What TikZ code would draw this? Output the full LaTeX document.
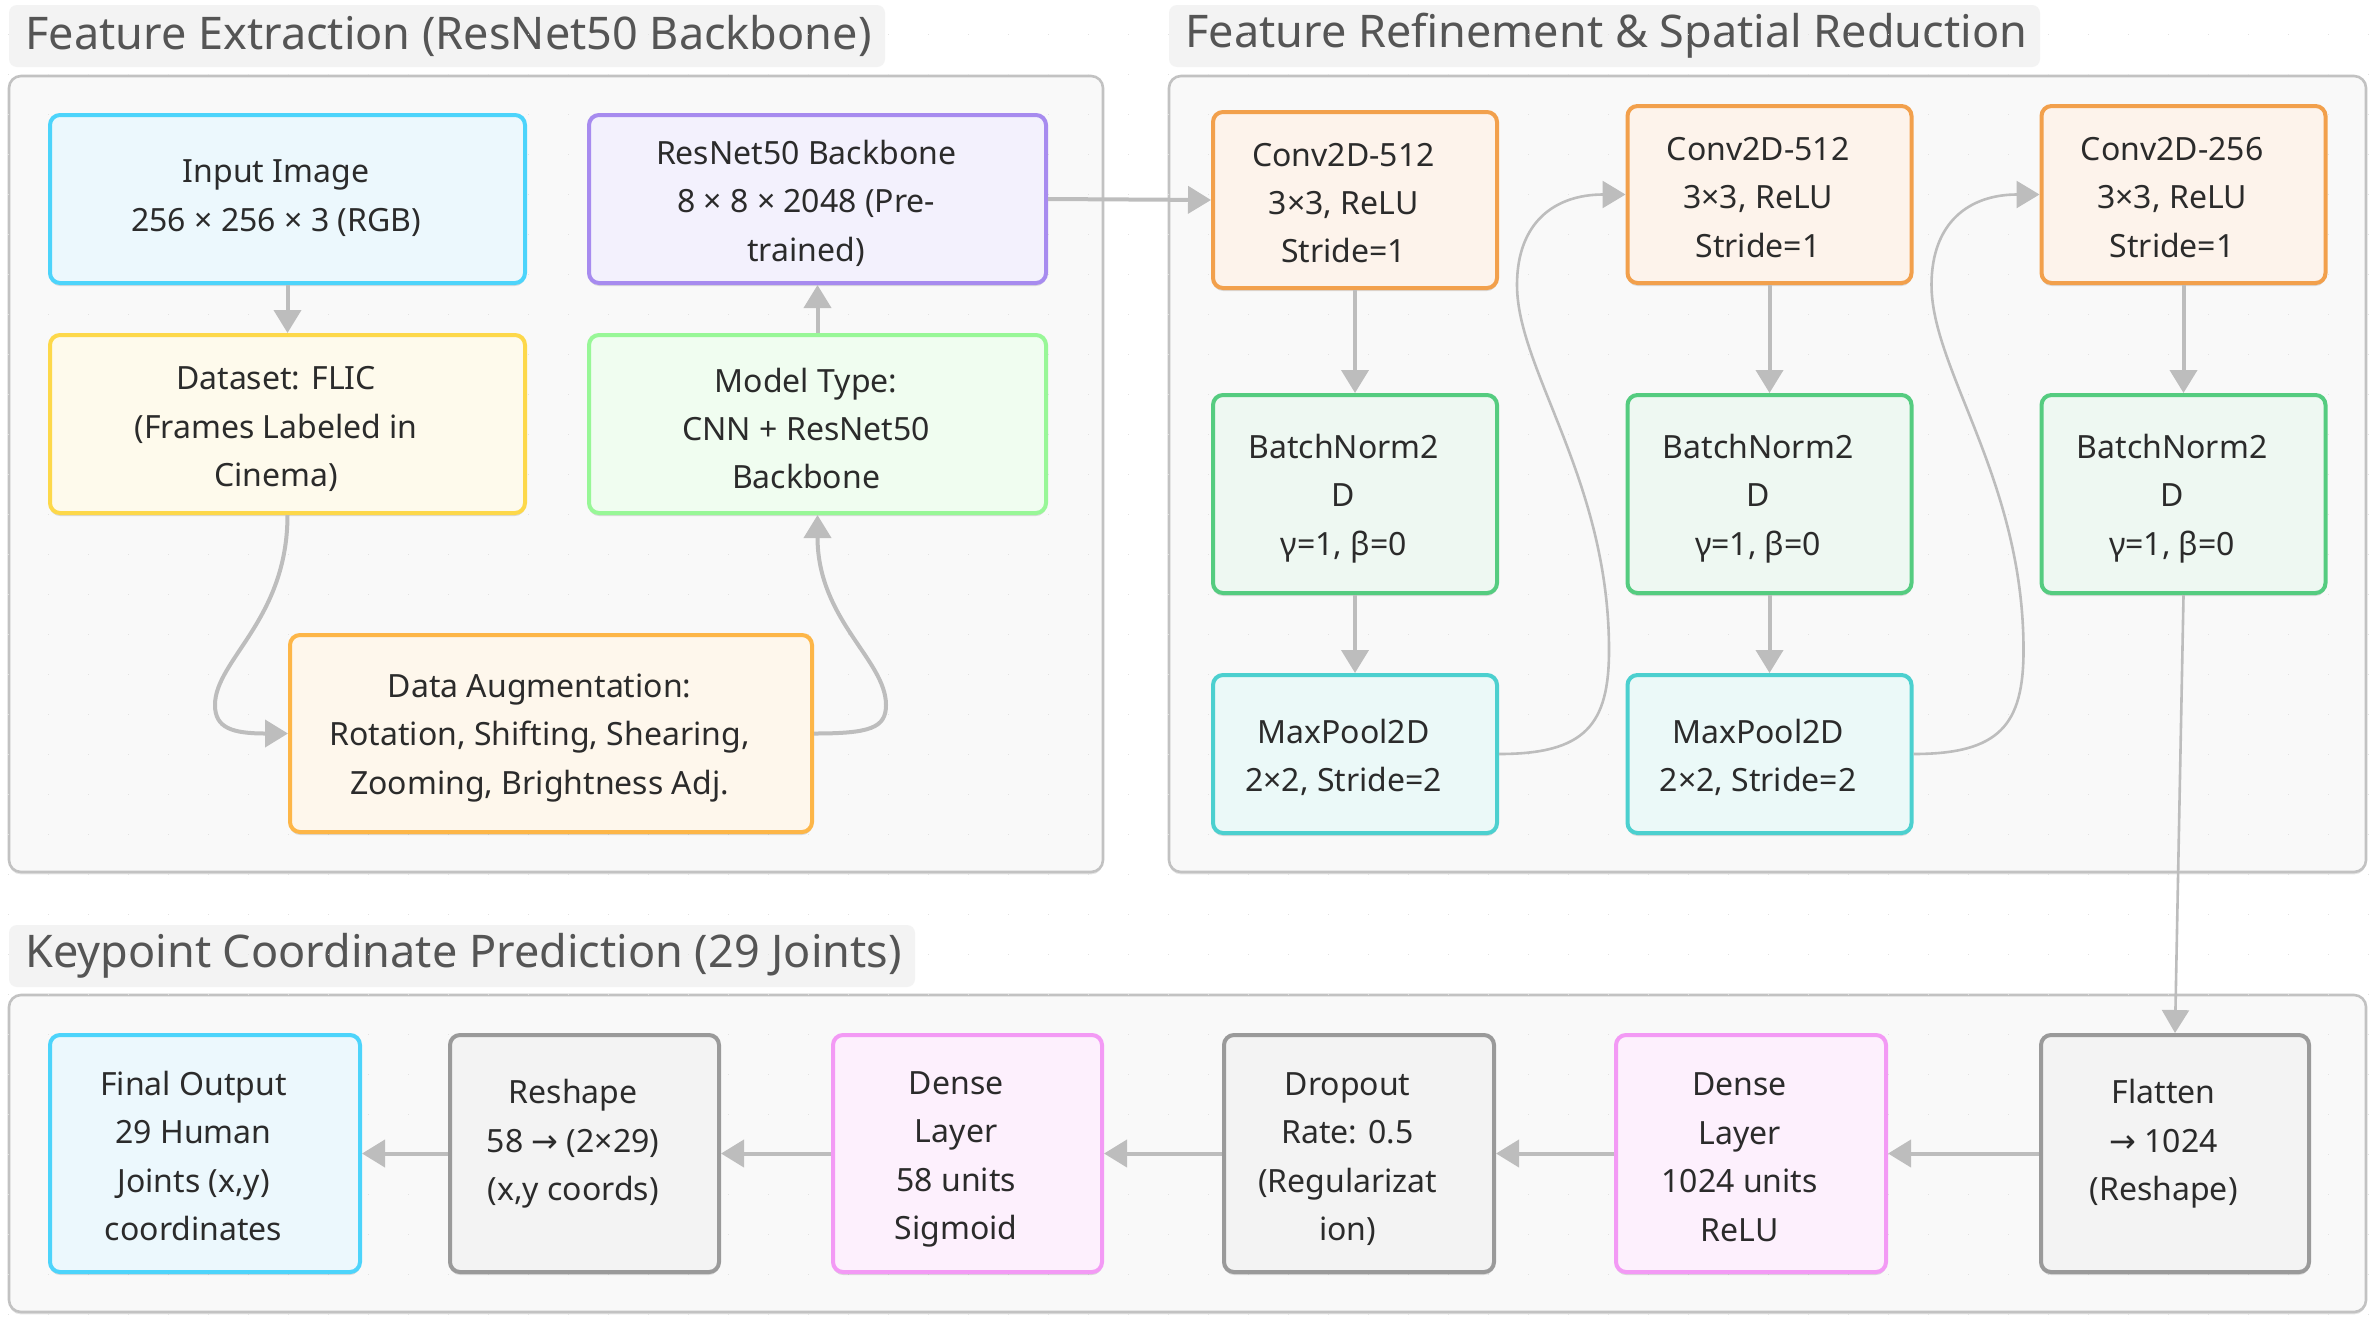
\documentclass[tikz,border=0pt]{standalone}
\usepackage{fontspec}
\setmainfont{Noto Sans}
\newfontfamily\symfont{DejaVu Sans}
\usetikzlibrary{arrows.meta,shadows}
\definecolor{txt}{HTML}{2B2B2B}
\definecolor{titletxt}{HTML}{555555}
\definecolor{titlebg}{HTML}{F3F3F3}
\definecolor{clusterf}{HTML}{F9F9F9}
\definecolor{clusterb}{HTML}{C2C2C2}
\definecolor{arrc}{HTML}{BDBDBD}
\definecolor{dotc}{HTML}{E2E2E2}
\definecolor{cyanb}{HTML}{4DD4FB}\definecolor{cyanf}{HTML}{ECF8FD}
\definecolor{purpb}{HTML}{A78BEF}\definecolor{purpf}{HTML}{F3F1FD}
\definecolor{yelb}{HTML}{FDD84A}\definecolor{yelf}{HTML}{FEFAEC}
\definecolor{lgrb}{HTML}{98F797}\definecolor{lgrf}{HTML}{F0FDF0}
\definecolor{augb}{HTML}{FDB648}\definecolor{augf}{HTML}{FEF7EC}
\definecolor{convb}{HTML}{F2A04C}\definecolor{convf}{HTML}{FDF3EB}
\definecolor{bnb}{HTML}{55CC80}\definecolor{bnf}{HTML}{EEF8F2}
\definecolor{mpb}{HTML}{4CD0CF}\definecolor{mpf}{HTML}{EBF9F8}
\definecolor{grb}{HTML}{9A9A9A}\definecolor{grf}{HTML}{F3F3F3}
\definecolor{pkb}{HTML}{F39AF5}\definecolor{pkf}{HTML}{FDF0FD}
\newcommand{\ra}{{\symfont\char"2192}}
% box with separately placed text: style, name, position, text shift, text
\newcommand{\bx}[5]{%
  \node[#1] (#2) at #3 {};
  \node[lbl] (#2-t) at ([shift={#4}]#2.center) {#5};}
\begin{document}
\begin{tikzpicture}[x=0.5pt,y=-0.5pt,
  box/.style={draw, rounded corners=5pt, line width=2pt, inner sep=0pt,
    drop shadow={shadow xshift=0pt, shadow yshift=-1.5pt, opacity=0.12, fill=black}},
  lbl/.style={align=center, inner sep=0pt, font=\fontsize{16}{24.2}\selectfont, text=txt},
  cluster/.style={draw=clusterb, fill=clusterf, rounded corners=6pt, line width=1.3pt,
    drop shadow={shadow xshift=0pt, shadow yshift=-1.2pt, opacity=0.10, fill=black}},
  ttlbg/.style={fill=titlebg, rounded corners=4pt},
  ttl/.style={anchor=west, inner sep=0pt, font=\fontsize{22.5}{26}\selectfont, text=titletxt},
  arr/.style={draw=arrc, line width=2pt, -{Triangle[length=11.5pt,width=13.5pt]}},
  thinarr/.style={draw=arrc, line width=1.3pt, -{Triangle[length=11.5pt,width=13.5pt]}},
  cy/.style={box, draw=cyanb, fill=cyanf},
  pu/.style={box, draw=purpb, fill=purpf},
  ye/.style={box, draw=yelb, fill=yelf},
  lg/.style={box, draw=lgrb, fill=lgrf},
  au/.style={box, draw=augb, fill=augf},
  cv/.style={box, draw=convb, fill=convf, minimum width=142pt},
  bn/.style={box, draw=bnb, fill=bnf, minimum width=142pt, minimum height=99pt},
  mp/.style={box, draw=mpb, fill=mpf, minimum width=142pt, minimum height=79pt},
  gr/.style={box, draw=grb, fill=grf},
  pk/.style={box, draw=pkb, fill=pkf},
  bot/.style={minimum height=118.5pt}
]
\useasboundingbox[fill=white] (0,0) rectangle (2375,1323);

% clusters
\fill[ttlbg] (9,5) rectangle (885,67);
\node[ttl] (t1) at (25,36) {Feature Extraction (ResNet50 Backbone)};
\path[cluster] (9,76) rectangle (1103,872);

\fill[ttlbg] (1169,5) rectangle (2040,67);
\node[ttl] (t2) at (1185,36) {Feature Refinement \& Spatial Reduction};
\path[cluster] (1169,76) rectangle (2366,872);

\fill[ttlbg] (9,925) rectangle (915,987);
\node[ttl] (t3) at (25,956) {Keypoint Coordinate Prediction (29 Joints)};
\path[cluster] (9,995) rectangle (2366,1312);

% dot grid
\foreach \gx in {8.3,48.3,...,2370} {
  \foreach \gy in {34.3,74.3,...,1320} {
    \fill[dotc] (\gx-0.8,\gy-0.8) rectangle (\gx+0.8,\gy+0.8);
  }
}

% cluster 1
\bx{cy, minimum width=237.5pt, minimum height=84pt}{inp}{(287.5,199)}{(-5.7pt,0.5pt)}{Input Image\\256 × 256 × 3 (RGB)}
\bx{pu, minimum width=228.5pt, minimum height=84pt}{res}{(817.5,199)}{(-5.7pt,-2pt)}{ResNet50 Backbone\\8 × 8 × 2048 (Pre-\\trained)}
\bx{ye, minimum width=237.5pt, minimum height=89pt}{ds}{(287.5,424)}{(-5.7pt,-2.6pt)}{Dataset: FLIC\\(Frames Labeled in\\Cinema)}
\bx{lg, minimum width=228.5pt, minimum height=89pt}{mt}{(817.5,424)}{(-5.7pt,-2.2pt)}{Model Type:\\CNN + ResNet50\\Backbone}
\bx{au, minimum width=261pt, minimum height=98.5pt}{aug}{(551,733.5)}{(-5.7pt,-2.2pt)}{Data Augmentation:\\Rotation, Shifting, Shearing,\\Zooming, Brightness Adj.}

% cluster 2
\bx{cv, minimum height=88pt}{c1}{(1355,200)}{(-5.7pt,-1.5pt)}{Conv2D-512\\3×3, ReLU\\Stride=1}
\bx{cv, minimum height=88.5pt}{c2}{(1769.5,194.5)}{(-5.7pt,-1.5pt)}{Conv2D-512\\3×3, ReLU\\Stride=1}
\bx{cv, minimum height=88.5pt}{c3}{(2183.5,194.5)}{(-5.7pt,-1.5pt)}{Conv2D-256\\3×3, ReLU\\Stride=1}
\bx{bn}{b1}{(1355,494)}{(-5.7pt,-2.2pt)}{BatchNorm2\\D\\γ=1, β=0}
\bx{bn}{b2}{(1769.5,494)}{(-5.7pt,-2.2pt)}{BatchNorm2\\D\\γ=1, β=0}
\bx{bn}{b3}{(2183.5,494)}{(-5.7pt,-2.2pt)}{BatchNorm2\\D\\γ=1, β=0}
\bx{mp}{m1}{(1355,754)}{(-5.7pt,-1.8pt)}{MaxPool2D\\2×2, Stride=2}
\bx{mp}{m2}{(1769.5,754)}{(-5.7pt,-1.8pt)}{MaxPool2D\\2×2, Stride=2}

% cluster 3
\bx{cy, bot, minimum width=155pt}{out}{(205,1153.5)}{(-5.7pt,-1.3pt)}{Final Output\\29 Human\\Joints (x,y)\\coordinates}
\bx{gr, bot, minimum width=134.5pt}{rsh}{(584.5,1153.5)}{(-5.7pt,4.9pt)}{Reshape\\58 \ra{} (2×29)\\(x,y coords)}
\bx{pk, bot, minimum width=134.5pt}{d58}{(967.5,1153.5)}{(-5.7pt,-2.9pt)}{Dense\\Layer\\58 units\\Sigmoid}
\bx{gr, bot, minimum width=135pt}{drp}{(1359,1153.5)}{(-5.7pt,-2.7pt)}{Dropout\\Rate: 0.5\\(Regularizat\\ion)}
\bx{pk, bot, minimum width=135pt}{d1024}{(1751,1153.5)}{(-5.7pt,-1.9pt)}{Dense\\Layer\\1024 units\\ReLU}
\bx{gr, bot, minimum width=134pt}{flt}{(2175,1153.5)}{(-5.7pt,4.9pt)}{Flatten\\\ra{} 1024\\(Reshape)}

% edges
\draw[arr] (inp.south) -- (ds.north);
\draw[arr] (mt.north) -- (res.south);
\draw[arr] (ds.south) .. controls (287.5,620) and (215,660) .. (215,705) .. controls (215,728) and (232,733.5) .. (aug.west);
\draw[arr] (aug.east) .. controls (870,733.5) and (886,728) .. (886,705) .. controls (886,660) and (817.5,620) .. (mt.south);
\draw[arr] (res.east) -- (c1.west);
\draw[arr] (c1.south) -- (b1.north);
\draw[arr] (c2.south) -- (b2.north);
\draw[arr] (c3.south) -- (b3.north);
\draw[arr] (b1.south) -- (m1.north);
\draw[arr] (b2.south) -- (m2.north);
\draw[thinarr] (m1.east) .. controls (1585,754) and (1609,725) .. (1609,650) .. controls (1609,480) and (1517,370) .. (1517,285) .. controls (1517,222) and (1555,194.5) .. (c2.west);
\draw[thinarr] (m2.east) .. controls (1999.5,754) and (2023.5,725) .. (2023.5,650) .. controls (2023.5,480) and (1931.5,370) .. (1931.5,285) .. controls (1931.5,222) and (1969.5,194.5) .. (c3.west);
\draw[thinarr] (b3.south) -- (flt.north);
\draw[arr] (flt.west) -- (d1024.east);
\draw[arr] (d1024.west) -- (drp.east);
\draw[arr] (drp.west) -- (d58.east);
\draw[arr] (d58.west) -- (rsh.east);
\draw[arr] (rsh.west) -- (out.east);
\end{tikzpicture}
\end{document}
